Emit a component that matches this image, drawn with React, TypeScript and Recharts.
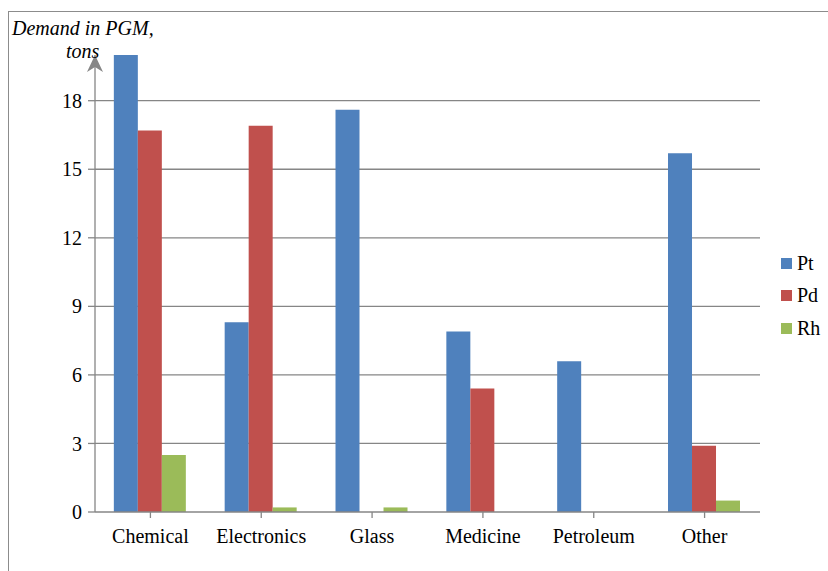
import { BarChart, Bar, XAxis, YAxis, CartesianGrid } from "recharts";

const categories = ["Chemical", "Electronics", "Glass", "Medicine", "Petroleum", "Other"];
const ptValues = [20.0, 8.3, 17.6, 7.9, 6.6, 15.7];
const pdValues = [16.7, 16.9, 0, 5.4, 0, 2.9];
const rhValues = [2.5, 0.2, 0.2, 0, 0, 0.5];
const yTicks = [0, 3, 6, 9, 12, 15, 18];
const seriesNames = ["Pt", "Pd", "Rh"] as const;

const COLORS = { Pt: "#4F81BD", Pd: "#C0504D", Rh: "#9BBB59" };
const FONT = "'Liberation Serif', 'Times New Roman', serif";

const data = categories.map((name, i) => ({
  name,
  Pt: ptValues[i],
  Pd: pdValues[i],
  Rh: rhValues[i],
}));

// legend kept outside the chart so it does not eat plot space
const LegendBox = () => (
  <div style={{ position: "absolute", left: 781, top: 247, fontFamily: FONT, fontSize: 20, color: "#000" }}>
    {seriesNames.map((k) => (
      <div key={k} style={{ display: "flex", alignItems: "center", height: 32.5 }}>
        <span style={{ width: 11, height: 11, background: COLORS[k], marginRight: 5 }} />
        {k}
      </div>
    ))}
  </div>
);

export default function App() {
  return (
    <div style={{ position: "absolute", left: 0, top: 0, width: 828, height: 571, background: "#fff" }}>
      <div style={{ position: "absolute", left: 8, top: 11, right: 0, height: 0, borderTop: "1.5px solid #8c8c8c" }} />
      <div style={{ position: "absolute", left: 8, top: 11, bottom: 0, width: 0, borderLeft: "1.5px solid #8c8c8c" }} />
      <BarChart
        width={828}
        height={571}
        data={data}
        margin={{ top: 55, right: 68, bottom: 29, left: 35 }}
        barCategoryGap="17%"
        barGap={0}
      >
        <CartesianGrid
          vertical={false}
          horizontalValues={yTicks.slice(1)}
          stroke="#868686"
          strokeWidth={1.3}
        />
        <XAxis
          dataKey="name"
          height={30}
          stroke="#868686"
          strokeWidth={1.3}
          tickSize={6}
          tickMargin={11}
          tick={{ fill: "#000", fontSize: 20, fontFamily: FONT }}
        />
        <YAxis
          width={60}
          domain={[0, 20]}
          ticks={yTicks}
          stroke="#868686"
          strokeWidth={1.3}
          tickSize={7}
          tickMargin={6}
          tick={{ fill: "#000", fontSize: 20, fontFamily: FONT }}
        />
        <Bar dataKey="Pt" fill={COLORS.Pt} isAnimationActive={false} />
        <Bar dataKey="Pd" fill={COLORS.Pd} isAnimationActive={false} />
        <Bar dataKey="Rh" fill={COLORS.Rh} isAnimationActive={false} />
      </BarChart>
      <LegendBox />
      <svg style={{ position: "absolute", left: 0, top: 0, pointerEvents: "none" }} width={828} height={571}>
        <polygon points="95,55 87,72 95,67 103,72" fill="#868686" />
      </svg>
      <div
        style={{
          position: "absolute",
          left: 12,
          top: 17,
          fontFamily: FONT,
          fontStyle: "italic",
          fontSize: 20,
          lineHeight: "23px",
          color: "#000",
        }}
      >
        Demand in PGM,
        <div style={{ paddingLeft: 54 }}>tons</div>
      </div>
    </div>
  );
}
